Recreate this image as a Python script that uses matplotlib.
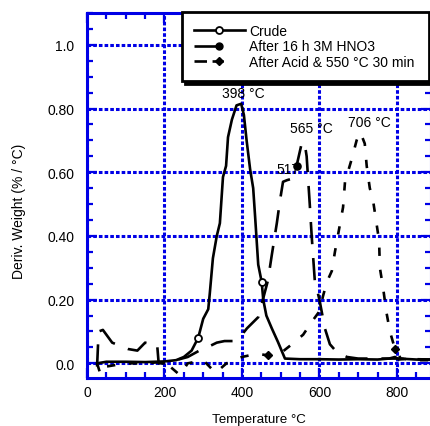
import numpy as np
import matplotlib
matplotlib.use("Agg")
import matplotlib.pyplot as plt
from matplotlib.lines import Line2D
from matplotlib.ticker import MultipleLocator

plt.rcParams['font.family'] = ['Liberation Sans', 'DejaVu Sans']
plt.rcParams['lines.scale_dashes'] = False

# Crude
t_crude = [26, 50, 100, 150, 200, 230, 250, 270, 287, 300, 313, 317, 325, 335, 343,
           351, 359, 364, 374, 386, 398, 405, 412, 421, 429, 434, 442, 451, 455, 463,
           477, 493, 511, 550, 600, 650, 700, 750, 780, 795, 805, 820, 850, 890]
w_crude = [0.0, 0.005, 0.005, 0.004, 0.006, 0.01, 0.02, 0.04, 0.08, 0.14, 0.17, 0.22,
           0.33, 0.40, 0.44, 0.585, 0.62, 0.71, 0.765, 0.81, 0.815, 0.78, 0.70, 0.61,
           0.55, 0.46, 0.31, 0.255, 0.20, 0.15, 0.11, 0.067, 0.015, 0.013, 0.013,
           0.012, 0.013, 0.012, 0.015, 0.02, 0.012, 0.014, 0.012, 0.012]

# After 16 h 3M HNO3
t_hno3 = [26, 30, 41, 65, 106, 130, 150, 168, 181, 185, 206, 230, 260, 290, 310, 335,
          355, 377, 400, 413, 442, 467, 477, 490, 498, 506, 516, 530, 541, 555, 562,
          567, 575, 580, 588, 600, 614, 627, 645, 671, 700, 750, 800, 850, 890]
w_hno3 = [-0.01, 0.10, 0.105, 0.065, 0.045, 0.04, 0.065, 0.06, 0.06, 0.0, 0.0, 0.01,
          0.02, 0.04, 0.05, 0.065, 0.07, 0.07, 0.09, 0.11, 0.145, 0.26, 0.34, 0.44,
          0.51, 0.57, 0.575, 0.58, 0.62, 0.695, 0.69, 0.65, 0.50, 0.40, 0.26, 0.20,
          0.11, 0.06, 0.035, 0.02, 0.015, 0.015, 0.015, 0.013, 0.012]

# After Acid & 550 C 30 min
t_acid = [26, 35, 50, 100, 150, 200, 240, 260, 300, 332, 360, 400, 438, 468, 503,
          529, 558, 580, 601, 609, 619, 632, 640, 661, 666, 683, 696, 704, 709, 717,
          722, 730, 738, 746, 754, 756, 764, 773, 782, 795, 810, 850, 890]
w_acid = [0.0, -0.035, -0.01, 0.0, 0.0, 0.005, -0.037, 0.0, 0.01, -0.03, 0.0, 0.02,
          0.03, 0.025, 0.035, 0.06, 0.09, 0.13, 0.165, 0.21, 0.255, 0.29, 0.35, 0.49,
          0.57, 0.64, 0.70, 0.725, 0.715, 0.69, 0.62, 0.55, 0.515, 0.45, 0.385, 0.30,
          0.24, 0.16, 0.10, 0.045, 0.015, 0.01, 0.01]

peak_labels = ["398 °C", "517", "565 °C", "706 °C"]
peak_pos = [(403, 0.85), (519, 0.61), (579, 0.74), (730, 0.757)]

blue = '#0000e6'
fig = plt.figure(figsize=(4.31, 4.27), dpi=100)
ax = fig.add_axes([87 / 431, 1 - 379 / 427, 344 / 431, 365 / 427])

ax.plot(t_crude, w_crude, color='black', lw=1.9, marker='o', ms=5, mfc='white',
        mew=1.3, markevery=[8, 27])
ax.plot(t_hno3, w_hno3, color='black', lw=1.9, ls=(0, (16, 10)), marker='o', ms=5,
        mew=1.2, markevery=[28])
ax.plot(t_acid, w_acid, color='black', lw=1.9, ls=(0, (6, 10)), marker='D', ms=4,
        markevery=[13, 39])

for lab, (px, py) in zip(peak_labels, peak_pos):
    ax.text(px, py, lab, ha='center', va='center', fontsize=10)

ax.set_xlim(0, 888)
ax.set_ylim(-0.046, 1.10)
ax.xaxis.set_major_locator(MultipleLocator(200))
ax.xaxis.set_minor_locator(MultipleLocator(50))
ax.yaxis.set_major_locator(MultipleLocator(0.2))
ax.yaxis.set_minor_locator(MultipleLocator(0.05))
ax.set_yticks([0, 0.2, 0.4, 0.6, 0.8, 1.0])
ax.set_yticklabels(["0.0", "0.20", "0.40", "0.60", "0.80", "1.0"])

ax.tick_params(which='both', direction='in', colors=blue, labelcolor='black',
               top=True, right=True, labelsize=10, width=1.6)
ax.tick_params(which='major', length=7)
ax.tick_params(which='minor', length=4)
ax.tick_params(axis='y', pad=9)
ax.tick_params(axis='x', pad=5)
for s in ax.spines.values():
    s.set_color(blue)
    s.set_linewidth(2.2)

ax.grid(True, which='major', color=blue, lw=2.2, ls=(0, (2.6, 1.5)))

ax.set_xlabel("Temperature °C", fontsize=9.6, labelpad=10)
fig.text(19 / 431, 1 - 211 / 427, "Deriv. Weight (% / °C)", rotation=90,
         ha='center', va='center', fontsize=10)

handles = [
    Line2D([], [], color='black', lw=1.9, marker='o', ms=5, mfc='white', mew=1.3),
    Line2D([], [], color='black', lw=1.9, ls=(0, (19, 40)), marker='o', ms=5),
    Line2D([], [], color='black', lw=1.9, ls=(0, (9, 4, 8, 40)), marker='D', ms=4),
]
labels = ["Crude", "After 16 h 3M HNO3", "After Acid & 550 °C 30 min"]
leg = fig.legend(handles, labels, loc='upper left',
                 bbox_to_anchor=(182 / 431, 1 - 13 / 427 - 0.1, 247 / 431, 0.1),
                 mode='expand', borderaxespad=0, fontsize=10, handlelength=3.7,
                 handletextpad=0.3, labelspacing=0.12, borderpad=0.85,
                 fancybox=False, framealpha=1, edgecolor='black',
                 shadow={'color': 'black', 'alpha': 1})
leg.get_frame().set_linewidth(2)

fig.savefig("out.png", dpi=100)
